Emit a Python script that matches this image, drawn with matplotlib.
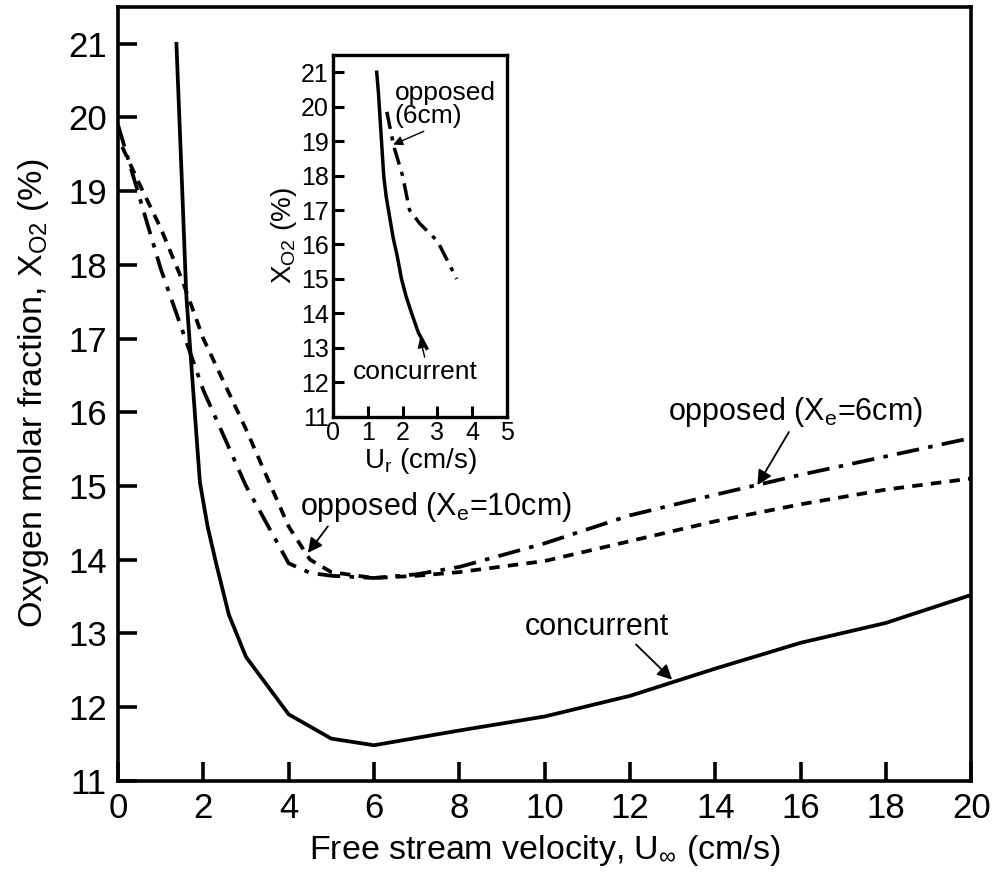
import matplotlib
matplotlib.use("Agg")
import matplotlib.pyplot as plt

plt.rcParams['font.family'] = ['Liberation Sans', 'DejaVu Sans']
plt.rcParams['mathtext.fontset'] = 'custom'
plt.rcParams['mathtext.rm'] = 'Liberation Sans'
plt.rcParams['mathtext.it'] = 'Liberation Sans'
plt.rcParams['mathtext.sf'] = 'Liberation Sans'

# ---- main chart data ----
conc_x = [1.37, 1.5, 1.6, 1.7, 1.8, 1.92, 2.1, 2.3, 2.6, 3.0, 4.0, 5.0, 6.0, 8.0, 10.0, 12.0, 14.0, 16.0, 18.0, 20.0]
conc_y = [21.0, 19.1, 17.6, 16.8, 16.0, 15.05, 14.45, 13.95, 13.25, 12.68, 11.9, 11.57, 11.48, 11.68, 11.87, 12.15, 12.52, 12.87, 13.14, 13.52]

opp6_x = [0.0, 1.0, 2.0, 3.0, 4.0, 4.5, 5.0, 6.0, 7.0, 8.0, 10.0, 12.0, 14.0, 16.0, 18.0, 20.0]
opp6_y = [19.9, 17.95, 16.3, 15.0, 13.95, 13.82, 13.78, 13.75, 13.8, 13.9, 14.22, 14.6, 14.88, 15.15, 15.4, 15.65]

opp10_x = [0.1, 0.5, 1.0, 1.5, 2.0, 3.0, 4.0, 4.5, 5.0, 6.0, 7.0, 8.0, 10.0, 12.0, 14.0, 16.0, 18.0, 20.0]
opp10_y = [19.6, 19.1, 18.5, 17.8, 17.0, 15.77, 14.45, 14.0, 13.83, 13.75, 13.78, 13.83, 13.98, 14.25, 14.52, 14.75, 14.95, 15.1]

x_ticks = [0, 2, 4, 6, 8, 10, 12, 14, 16, 18, 20]
y_ticks = [11, 12, 13, 14, 15, 16, 17, 18, 19, 20, 21]

# ---- inset data ----
in_conc_x = [1.26, 1.31, 1.36, 1.41, 1.46, 1.53, 1.63, 1.73, 1.84, 1.97, 2.1, 2.26, 2.45, 2.69]
in_conc_y = [21.0, 20.4, 19.6, 18.8, 18.0, 17.4, 16.8, 16.2, 15.7, 15.0, 14.5, 14.0, 13.45, 12.99]

in_opp_x = [1.55, 1.75, 2.0, 2.2, 2.5, 3.0, 3.55]
in_opp_y = [19.85, 18.85, 18.0, 17.0, 16.6, 16.1, 15.0]

in_x_ticks = [0, 1, 2, 3, 4, 5]
in_y_ticks = [11, 12, 13, 14, 15, 16, 17, 18, 19, 20, 21]

fig = plt.figure(figsize=(9.94, 8.72), dpi=100)
ax = fig.add_axes([0.1187, 0.1048, 0.977 - 0.1187, 0.992 - 0.1048])

lw = 2.7
ax.plot(conc_x, conc_y, color='black', lw=lw)
ax.plot(opp6_x, opp6_y, color='black', lw=lw, dashes=(6, 2.5, 1.2, 2.5))
ax.plot(opp10_x, opp10_y, color='black', lw=lw, dashes=(2.8, 2.2))

ax.set_xlim(0, 20)
ax.set_ylim(11, 21.5)
ax.set_xticks(x_ticks)
ax.set_yticks(y_ticks)
ax.tick_params(direction='in', length=14, width=2.6, labelsize=25, pad=8,
               top=False, right=False)
for s in ax.spines.values():
    s.set_linewidth(2.6)

ax.set_xlabel(r'Free stream velocity, U$_{\infty}$ (cm/s)', fontsize=24.5, labelpad=6)
ax.set_ylabel(r'Oxygen molar fraction, X$_{\mathrm{O2}}$ (%)', fontsize=24.5, labelpad=12)

arrowprops = dict(arrowstyle='-|>', color='black', lw=1.3, mutation_scale=22,
                  shrinkA=0, shrinkB=0)
ax.annotate(r'opposed (X$_{\mathrm{e}}$=10cm)', xy=(4.45, 14.09), xytext=(4.27, 14.72),
            fontsize=22, va='center', ha='left',
            arrowprops=dict(arrowprops, relpos=(0.11, 0.0)))
ax.annotate(r'opposed (X$_{\mathrm{e}}$=6cm)', xy=(14.99, 15.01), xytext=(12.9, 16.0),
            fontsize=22, va='center', ha='left',
            arrowprops=dict(arrowprops, relpos=(0.48, 0.0)))
ax.annotate('concurrent', xy=(12.99, 12.37), xytext=(9.54, 13.09),
            fontsize=22, va='center', ha='left',
            arrowprops=dict(arrowprops, relpos=(0.75, 0.0)))

# ---- inset ----
ins = fig.add_axes([0.3347, 0.5221, 0.1757, 0.4148])
ins.plot(in_conc_x, in_conc_y, color='black', lw=2.5)
ins.plot(in_opp_x, in_opp_y, color='black', lw=2.5, dashes=(5, 2.2, 1.2, 2.2))
ins.set_xlim(0, 5)
ins.set_ylim(11, 21.5)
ins.set_xticks(in_x_ticks)
ins.set_yticks(in_y_ticks)
ins.tick_params(direction='in', length=8, width=2.2, labelsize=18, pad=3,
                top=False, right=False)
for s in ins.spines.values():
    s.set_linewidth(2.4)
ins.set_xlabel(r'U$_{\mathrm{r}}$ (cm/s)', fontsize=20, labelpad=1)
ins.set_ylabel(r'X$_{\mathrm{O2}}$ (%)', fontsize=20, labelpad=1)

arrowprops2 = dict(arrowstyle='-|>', color='black', lw=1.0, mutation_scale=14,
                   shrinkA=0, shrinkB=0)
ins.annotate('opposed\n(6cm)', xy=(1.73, 18.9), xytext=(1.78, 20.05),
             fontsize=19, va='center', ha='left', linespacing=0.95,
             arrowprops=dict(arrowprops2, relpos=(0.35, 0.0)))
ins.annotate('concurrent', xy=(2.5, 13.28), xytext=(0.58, 12.3),
             fontsize=19, va='center', ha='left',
             arrowprops=dict(arrowprops2, relpos=(0.58, 1.0)))

fig.savefig('out.png', dpi=100)
